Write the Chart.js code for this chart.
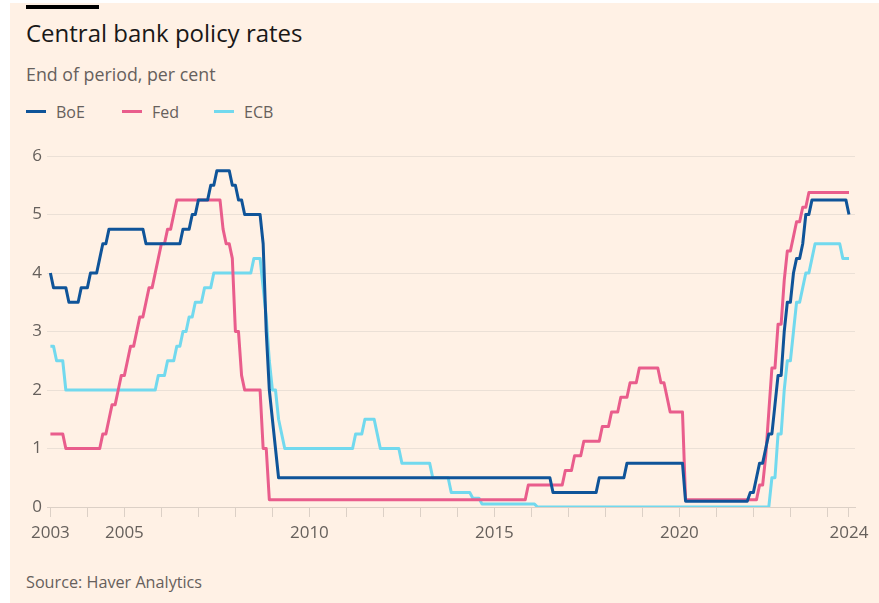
<!DOCTYPE html>
<html><head><meta charset="utf-8">
<script src="https://cdn.jsdelivr.net/npm/chart.js@4.4.1/dist/chart.umd.min.js"></script>
<style>
html,body{margin:0;padding:0;background:#fff;width:879px;height:603px;overflow:hidden;font-family:"Open Sans",sans-serif;}
#paper{position:absolute;left:10px;top:3px;right:0;bottom:0;background:#FFF1E5;}
#bar{position:absolute;left:26px;top:5px;width:73px;height:4px;background:#000;}
#title{position:absolute;left:26px;top:21px;font-size:24px;line-height:24px;color:#1a1817;white-space:nowrap;}
#subtitle{position:absolute;left:26px;top:65px;font-size:17.8px;line-height:18px;color:#66605c;white-space:nowrap;}
.item{position:absolute;top:104px;height:16px;font-size:16px;line-height:16px;color:#66605c;white-space:nowrap;}
.sw{position:absolute;left:0;top:6px;width:20px;height:3px;}
.lab{position:absolute;left:30px;top:0;}
#source{position:absolute;left:26px;top:574px;font-size:16.2px;line-height:16px;color:#66605c;white-space:nowrap;}
#wrap{position:absolute;left:0;top:130px;width:879px;height:430px;}
</style></head>
<body>
<div id="paper"></div>
<div id="bar"></div>
<div id="title">Central bank policy rates</div>
<div id="subtitle">End of period, per cent</div>
<div class="item" style="left:26px"><div class="sw" style="background:#0f5499"></div><span class="lab">BoE</span></div>
<div class="item" style="left:122px"><div class="sw" style="background:#e95d8c"></div><span class="lab">Fed</span></div>
<div class="item" style="left:214px"><div class="sw" style="background:#72d9ee"></div><span class="lab">ECB</span></div>
<div id="source">Source: Haver Analytics</div>
<div id="wrap"><canvas id="c" width="879" height="430"></canvas></div>
<script>
// End-of-month policy rates, listed at each month where the value changed (first = start, last = end of data)
const boeMonths = ['2003-01','2003-02','2003-07','2003-11','2004-02','2004-05','2004-06','2004-08','2005-08','2006-08','2006-11','2007-01','2007-05','2007-07','2007-12','2008-02','2008-04','2008-10','2008-11','2008-12','2009-01','2009-02','2009-03','2016-08','2017-11','2018-08','2020-03','2021-12','2022-02','2022-03','2022-05','2022-06','2022-08','2022-09','2022-11','2022-12','2023-02','2023-03','2023-05','2023-06','2023-08','2024-08'];
const boeRates  = [4.0,3.75,3.5,3.75,4.0,4.25,4.5,4.75,4.5,4.75,5.0,5.25,5.5,5.75,5.5,5.25,5.0,4.5,3.0,2.0,1.5,1.0,0.5,0.25,0.5,0.75,0.1,0.25,0.5,0.75,1.0,1.25,1.75,2.25,3.0,3.5,4.0,4.25,4.5,5.0,5.25,5.0];

const fedMonths = ['2003-01','2003-06','2004-06','2004-08','2004-09','2004-11','2004-12','2005-02','2005-03','2005-05','2005-06','2005-08','2005-09','2005-11','2005-12','2006-01','2006-03','2006-05','2006-06','2007-09','2007-10','2007-12','2008-01','2008-03','2008-04','2008-10','2008-12','2015-12','2016-12','2017-03','2017-06','2017-12','2018-03','2018-06','2018-09','2018-12','2019-07','2019-09','2019-10','2020-03','2022-03','2022-05','2022-06','2022-07','2022-09','2022-11','2022-12','2023-02','2023-03','2023-05','2023-07','2024-08'];
const fedRates  = [1.25,1.0,1.25,1.5,1.75,2.0,2.25,2.5,2.75,3.0,3.25,3.5,3.75,4.0,4.25,4.5,4.75,5.0,5.25,4.75,4.5,4.25,3.0,2.25,2.0,1.0,0.125,0.375,0.625,0.875,1.125,1.375,1.625,1.875,2.125,2.375,2.125,1.875,1.625,0.125,0.375,0.875,1.625,2.375,3.125,3.875,4.375,4.625,4.875,5.125,5.375,5.375];

const ecbMonths = ['2003-01','2003-03','2003-06','2005-12','2006-03','2006-06','2006-08','2006-10','2006-12','2007-03','2007-06','2008-07','2008-10','2008-11','2008-12','2009-01','2009-03','2009-04','2009-05','2011-04','2011-07','2011-11','2011-12','2012-07','2013-05','2013-11','2014-06','2014-09','2016-03','2022-07','2022-09','2022-11','2022-12','2023-02','2023-03','2023-05','2023-06','2023-08','2023-09','2024-06','2024-08'];
const ecbRates  = [2.75,2.5,2.0,2.25,2.5,2.75,3.0,3.25,3.5,3.75,4.0,4.25,3.75,3.25,2.5,2.0,1.5,1.25,1.0,1.25,1.5,1.25,1.0,0.75,0.5,0.25,0.15,0.05,0.0,0.5,1.25,2.0,2.5,3.0,3.5,3.75,4.0,4.25,4.5,4.25,4.25];

// Axis ticks and labels
const xTickYears = [2003,2004,2005,2006,2007,2008,2009,2010,2011,2012,2013,2014,2015,2016,2017,2018,2019,2020,2021,2022,2023,2024];
const xLabelMonths = ['2003-01','2005-01','2010-01','2015-01','2020-01','2024-08'];
const xLabelTexts  = ['2003','2005','2010','2015','2020','2024'];
const yTicks = [0,1,2,3,4,5,6];

function pos(m){ const p = m.split('-').map(Number); return p[0] + (p[1]-1)/12; }
function buildPoints(months, rates){
  const pts = [{x:pos(months[0]), y:rates[0]}];
  for (let i=1;i<months.length;i++){
    const x = pos(months[i]);
    const prevX = x - 1/12;
    if (prevX > pts[pts.length-1].x + 1e-9) pts.push({x:prevX, y:rates[i-1]});
    pts.push({x:x, y:rates[i]});
  }
  return pts;
}

const endPos = pos(boeMonths[boeMonths.length-1]);
const tickValues = xTickYears.concat([endPos]);
const labelValues = xLabelMonths.map(pos);

const tickFont = {family:'"Open Sans", sans-serif', size:17};
const txt = '#66605c';

function ds(label, months, rates, color){
  return {label, data: buildPoints(months, rates), borderColor: color, backgroundColor: color,
    borderWidth: 3, pointRadius: 0, tension: 0, fill: false, borderJoinStyle: 'round'};
}

new Chart(document.getElementById('c'), {
  type: 'line',
  data: { datasets: [
    ds('BoE', boeMonths, boeRates, '#0f5499'),
    ds('Fed', fedMonths, fedRates, '#e95d8c'),
    ds('ECB', ecbMonths, ecbRates, '#72d9ee')
  ]},
  options: {
    responsive: false, animation: false,
    layout: {padding: {top: 26, right: 24, bottom: 0, left: 0}},
    plugins: {legend: {display: false}, tooltip: {enabled: false}},
    scales: {
      x: {
        type: 'linear', min: 2002.908, max: 2024.746,
        afterFit(s){ s.height = 53; },
        afterBuildTicks(s){ s.ticks = tickValues.map(v => ({value: v})); },
        ticks: {autoSkip: false, maxRotation: 0, padding: 6, font: tickFont, color: txt,
          callback(v){ for (let i=0;i<labelValues.length;i++){ if (Math.abs(labelValues[i]-v) < 1e-6) return xLabelTexts[i]; } return ''; }},
        grid: {drawOnChartArea: false, drawTicks: true, tickLength: 10, tickColor: '#dcd0c6', color: '#dcd0c6'},
        border: {display: true, color: '#dcd0c6', width: 1}
      },
      y: {
        min: 0, max: 6,
        afterFit(s){ s.width = 47; },
        afterBuildTicks(s){ s.ticks = yTicks.map(v => ({value: v})); },
        ticks: {padding: 5, font: tickFont, color: txt},
        grid: {color: '#ebe0d6', drawTicks: false},
        border: {display: false}
      }
    }
  }
});
</script>
</body></html>
